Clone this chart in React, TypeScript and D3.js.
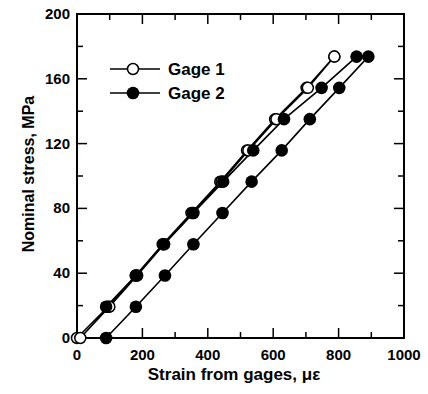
import React from "react";
import * as d3 from "d3";

const stressLevels = [0, 19.3, 38.6, 57.9, 77.2, 96.5, 115.8, 135.1, 154.4, 173.7];
const gage1LoadStrain = [0, 95, 180, 262, 350, 438, 520, 606, 702, 787];
const gage1UnloadStrain = [787, 706, 610, 524, 442, 354, 266, 184, 99, 10];
const gage2LoadStress = [19.3, 38.6, 57.9, 77.2, 96.5, 115.8, 135.1, 154.4, 173.7];
const gage2LoadStrain = [89, 180, 266, 356, 447, 539, 633, 748, 855];
const gage2UnloadStrain = [891, 802, 712, 626, 534, 445, 356, 269, 180, 89];

const xTicks = [0, 200, 400, 600, 800, 1000];
const yTicks = [0, 40, 80, 120, 160, 200];
const xMinor = d3.range(0, 1001, 100);
const yMinor = d3.range(0, 201, 20);

const W = 428, H = 394;
const left = 77, right = 404, top = 14, bottom = 338;
const font = "'Liberation Sans', Arial, sans-serif";

export default function App() {
  const x = d3.scaleLinear().domain([0, 1000]).range([left, right]);
  const y = d3.scaleLinear().domain([0, 200]).range([bottom, top]);
  const line = d3.line<[number, number]>().x(d => x(d[0])).y(d => y(d[1]));

  const g1Load: [number, number][] = gage1LoadStrain.map((s, i) => [s, stressLevels[i]]);
  const revLevels = stressLevels.slice().reverse();
  const g1Unload: [number, number][] = gage1UnloadStrain.map((s, i) => [s, revLevels[i]]);
  const g2Load: [number, number][] = gage2LoadStrain.map((s, i) => [s, gage2LoadStress[i]]);
  const g2Unload: [number, number][] = gage2UnloadStrain.map((s, i) => [s, revLevels[i]]);
  const g2All = [...g2Load, ...g2Unload];
  const g1All = [...g1Load, ...g1Unload.slice(1)];

  const isMajorX = (v: number) => v % 200 === 0;
  const isMajorY = (v: number) => v % 40 === 0;

  return (
    <svg width={W} height={H} style={{ position: "absolute", left: 0, top: 0, background: "#fff" }}>
      {/* ticks */}
      {xMinor.map(v => {
        const L = isMajorX(v) ? 10 : 6;
        return (
          <g key={"xt" + v}>
            <line x1={x(v)} x2={x(v)} y1={bottom} y2={bottom - L} stroke="#000" strokeWidth={1.5} />
            <line x1={x(v)} x2={x(v)} y1={top} y2={top + L} stroke="#000" strokeWidth={1.5} />
          </g>
        );
      })}
      {yMinor.map(v => {
        const L = isMajorY(v) ? 10 : 6;
        return (
          <g key={"yt" + v}>
            <line x1={left} x2={left + L} y1={y(v)} y2={y(v)} stroke="#000" strokeWidth={1.5} />
            <line x1={right} x2={right - L} y1={y(v)} y2={y(v)} stroke="#000" strokeWidth={1.5} />
          </g>
        );
      })}
      <rect x={left} y={top} width={right - left} height={bottom - top} fill="none" stroke="#000" strokeWidth={2} />

      {/* data lines */}
      <path d={line(g1All) || ""} fill="none" stroke="#000" strokeWidth={1.6} />
      <path d={line(g2All) || ""} fill="none" stroke="#000" strokeWidth={1.6} />

      {/* markers */}
      {[...g1Load, ...g1Unload].map((d, i) => (
        <circle key={"o" + i} cx={x(d[0])} cy={y(d[1])} r={5.5} fill="#fff" stroke="#000" strokeWidth={1.5} />
      ))}
      {g2All.map((d, i) => (
        <circle key={"f" + i} cx={x(d[0])} cy={y(d[1])} r={6.3} fill="#000" />
      ))}

      {/* tick labels */}
      {xTicks.map(v => (
        <text key={"xl" + v} x={x(v)} y={bottom + 22} textAnchor="middle" fontFamily={font} fontSize={15} fontWeight="bold">{v}</text>
      ))}
      {yTicks.map(v => (
        <text key={"yl" + v} x={left - 7} y={y(v) + 5} textAnchor="end" fontFamily={font} fontSize={15} fontWeight="bold">{v}</text>
      ))}

      {/* axis titles */}
      <text x={234} y={380} textAnchor="middle" fontFamily={font} fontSize={17} fontWeight="bold">Strain from gages, με</text>
      <text transform={`translate(34,174) rotate(-90)`} textAnchor="middle" fontFamily={font} fontSize={16} fontWeight="bold">Nominal stress, MPa</text>

      {/* legend */}
      <line x1={110} x2={160} y1={69} y2={69} stroke="#000" strokeWidth={1.5} />
      <circle cx={133} cy={69} r={5.5} fill="#fff" stroke="#000" strokeWidth={1.5} />
      <text x={168} y={75} fontFamily={font} fontSize={17} fontWeight="bold">Gage 1</text>
      <line x1={110} x2={160} y1={93} y2={93} stroke="#000" strokeWidth={1.5} />
      <circle cx={133} cy={93} r={6.3} fill="#000" />
      <text x={168} y={99} fontFamily={font} fontSize={17} fontWeight="bold">Gage 2</text>
    </svg>
  );
}
